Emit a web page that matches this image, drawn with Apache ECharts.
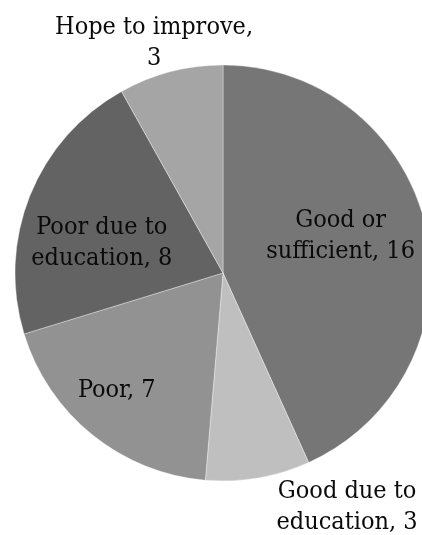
<!DOCTYPE html>
<html>
<head>
<meta charset="utf-8">
<script src="https://cdn.jsdelivr.net/npm/echarts@6/dist/echarts.min.js"></script>
<style>
  html, body { margin: 0; padding: 0; background: #fff; }
  #chart { width: 422px; height: 535px; }
</style>
</head>
<body>
<div id="chart"></div>
<script>
// Survey responses, clockwise from 12 o'clock
const categories = ['Good or\nsufficient', 'Good due to\neducation', 'Poor', 'Poor due to\neducation', 'Hope to improve,\n'];
const counts = [16, 3, 7, 8, 3];

const sliceColors = ['#767676', '#bfbfbf', '#929292', '#636363', '#a5a5a5'];
// label shifts away from the default mid-radius spot
const labelShift = [[13, -14], [106, 129], [-39, 34], [-22, 10], [-42, -126]];

const chart = echarts.init(document.getElementById('chart'));

chart.setOption({
  animation: false,
  series: [{
    type: 'pie',
    center: [223, 273],
    radius: [0, 208],
    startAngle: 90,
    clockwise: true,
    avoidLabelOverlap: false,
    itemStyle: { borderColor: 'rgba(255,255,255,0.6)', borderWidth: 0.6 },
    label: {
      show: true,
      position: 'inside',
      fontFamily: '"DejaVu Serif Condensed", "DejaVu Serif", serif',
      fontSize: 25,
      lineHeight: 31,
      color: '#0a0a0a',
      align: 'center',
      formatter: p => p.name.endsWith('\n') ? p.name + p.value : p.name + ', ' + p.value
    },
    labelLine: { show: false },
    emphasis: { disabled: true },
    data: categories.map((name, i) => ({
      name,
      value: counts[i],
      itemStyle: { color: sliceColors[i] },
      label: { offset: labelShift[i] }
    }))
  }]
});
</script>
</body>
</html>
